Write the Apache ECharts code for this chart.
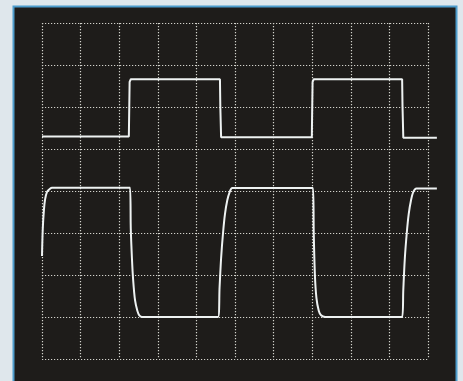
<!DOCTYPE html>
<html>
<head>
<meta charset="utf-8">
<script src="https://cdn.jsdelivr.net/npm/echarts@6/dist/echarts.min.js"></script>
<style>
html,body{margin:0;padding:0;background:#dfe7ec;}
#c{width:463px;height:381px;}
</style>
</head>
<body>
<div id="c"></div>
<script>
// Time in divisions (0..10), voltage in divisions (-4..4, 0 = centre line)
const topTraceT = [0, 2.25, 2.27, 2.30, 4.61, 4.62, 4.64, 6.99, 7.01, 7.04, 9.33, 9.34, 9.36, 10.23];
const topTraceV = [1.30, 1.30, 2.60, 2.66, 2.66, 2.00, 1.28, 1.28, 2.60, 2.66, 2.66, 2.00, 1.27, 1.27];

const botTraceT = [0, 0.02, 0.05, 0.08, 0.13, 0.20, 0.26, 2.28, 2.30, 2.33, 2.36, 2.41, 2.47, 2.52, 2.60,
                   4.56, 4.60, 4.64, 4.69, 4.74, 4.80, 4.86, 4.93,
                   7.02, 7.04, 7.07, 7.11, 7.17, 7.23, 7.34,
                   9.33, 9.36, 9.40, 9.45, 9.50, 9.56, 9.62, 9.70, 10.23];
const botTraceV = [-1.55, -0.90, -0.45, -0.20, -0.02, 0.05, 0.08, 0.08, -0.90, -1.60, -2.10, -2.60, -2.85, -2.96, -3.00,
                   -3.00, -2.30, -1.60, -1.00, -0.55, -0.22, -0.03, 0.07,
                   0.07, -1.00, -2.00, -2.55, -2.85, -2.96, -3.00,
                   -3.00, -2.35, -1.60, -1.00, -0.55, -0.22, -0.02, 0.06, 0.06];

const xTicks = [0, 1, 2, 3, 4, 5, 6, 7, 8, 9, 10];
const yTicks = [-4, -3, -2, -1, 0, 1, 2, 3, 4];
const traceTMax = 10.25; // traces run slightly past the graticule

const zip = (a, b) => a.map((v, i) => [v, b[i]]);

const GL = 42, GT = 23, GW = 386, GH = 336;
const xSpan = xTicks[xTicks.length - 1] - xTicks[0];

const chart = echarts.init(document.getElementById('c'), null, {renderer: 'canvas'});
const dotted = {color: '#d2d2cc', width: 1.2, type: [1.2, 1.8]};
const hidden = {axisLine: {show: false}, axisTick: {show: false}, axisLabel: {show: false}};
chart.setOption({
  backgroundColor: '#dfe7ec',
  animation: false,
  graphic: [{
    type: 'rect', z: -10, silent: true,
    shape: {x: 13.5, y: 6.5, width: 443, height: 380},
    style: {fill: '#1e1c1a', stroke: '#4d9ccc', lineWidth: 2}
  }],
  grid: [
    {left: GL, top: GT, width: GW, height: GH, show: false},
    {left: GL, top: GT, width: GW * (traceTMax - xTicks[0]) / xSpan, height: GH, show: false}
  ],
  xAxis: [
    Object.assign({type: 'value', gridIndex: 0, min: xTicks[0], max: xTicks[xTicks.length - 1], interval: 1,
      splitLine: {show: true, lineStyle: dotted}}, hidden),
    Object.assign({type: 'value', gridIndex: 1, min: xTicks[0], max: traceTMax,
      splitLine: {show: false}}, hidden)
  ],
  yAxis: [
    Object.assign({type: 'value', gridIndex: 0, min: yTicks[0], max: yTicks[yTicks.length - 1], interval: 1,
      splitLine: {show: true, lineStyle: dotted}}, hidden),
    Object.assign({type: 'value', gridIndex: 1, min: yTicks[0], max: yTicks[yTicks.length - 1],
      splitLine: {show: false}}, hidden)
  ],
  series: [
    {type: 'line', xAxisIndex: 1, yAxisIndex: 1, data: zip(topTraceT, topTraceV), showSymbol: false,
     lineStyle: {color: '#eef2f2', width: 2}},
    {type: 'line', xAxisIndex: 1, yAxisIndex: 1, data: zip(botTraceT, botTraceV), showSymbol: false, smooth: 0.3,
     lineStyle: {color: '#eef2f2', width: 2}}
  ]
});
</script>
</body>
</html>
